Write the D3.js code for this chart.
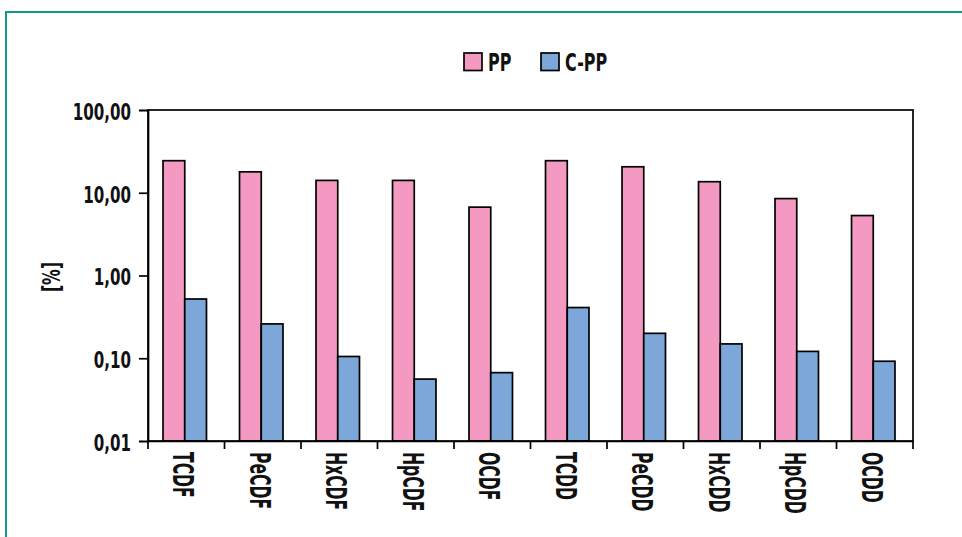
<!DOCTYPE html>
<html>
<head>
<meta charset="utf-8">
<script src="https://cdnjs.cloudflare.com/ajax/libs/d3/7.8.5/d3.min.js"></script>
<style>
body { margin: 0; background: #fff; }
svg text { font-family: "DejaVu Sans Condensed", "Liberation Sans Narrow", sans-serif; font-weight: bold; fill: #111; }
</style>
</head>
<body>
<div id="chart"></div>
<script>
var categories = ["TCDF", "PeCDF", "HxCDF", "HpCDF", "OCDF", "TCDD", "PeCDD", "HxCDD", "HpCDD", "OCDD"];
var seriesNames = ["PP", "C-PP"];
var ppValues = [24.4, 17.9, 14.1, 14.1, 6.7, 24.4, 20.6, 13.6, 8.5, 5.3];
var cppValues = [0.52, 0.26, 0.105, 0.056, 0.067, 0.41, 0.20, 0.149, 0.121, 0.092];
var yTicks = [0.01, 0.1, 1, 10, 100];
var colors = ["#f49ac2", "#7ca7d8"];

var width = 962,
	height = 537;

// narrow factor to imitate a condensed bold face
var squeeze = 0.73;

var svg = d3.select("#chart").append("svg")
	.attr("width", width)
	.attr("height", height);

//Outer teal frame (runs off the right and bottom edges)
svg.append("rect")
	.attr("x", 6)
	.attr("y", 12)
	.attr("width", 1000)
	.attr("height", 600)
	.attr("fill", "none")
	.attr("stroke", "#16998d")
	.attr("stroke-width", 2);

var plot = { left: 148, top: 110, right: 913, bottom: 441 };

var xScale = d3.scaleBand()
	.domain(categories)
	.range([plot.left, plot.right])
	.padding(0);

var xInner = d3.scaleBand()
	.domain(seriesNames)
	.range([0, xScale.bandwidth()])
	.paddingInner(0)
	.paddingOuter(0.76);

var yScale = d3.scaleLog()
	.domain([0.01, 100])
	.range([plot.bottom, plot.top]);

var locale = d3.formatLocale({ decimal: ",", thousands: ".", grouping: [3], currency: ["", ""] });
var fmt = locale.format(".2f");

var data = categories.map(function(c, i) {
	return { cat: c, values: [ppValues[i], cppValues[i]] };
});

//Bars
var groups = svg.selectAll(".grp")
	.data(data)
	.enter().append("g")
	.attr("class", "grp")
	.attr("transform", function(d) { return "translate(" + (xScale(d.cat) - 1.5) + ",0)"; });

groups.selectAll("rect")
	.data(function(d) { return d.values.map(function(v, j) { return { name: seriesNames[j], value: v, j: j }; }); })
	.enter().append("rect")
	.attr("x", function(d) { return xInner(d.name); })
	.attr("width", xInner.bandwidth())
	.attr("y", function(d) { return yScale(d.value); })
	.attr("height", function(d) { return plot.bottom - yScale(d.value); })
	.attr("fill", function(d) { return colors[d.j]; })
	.attr("stroke", "#000")
	.attr("stroke-width", 1.7);

//Plot frame
svg.append("rect")
	.attr("x", plot.left)
	.attr("y", plot.top)
	.attr("width", plot.right - plot.left)
	.attr("height", plot.bottom - plot.top)
	.attr("fill", "none")
	.attr("stroke", "#000")
	.attr("stroke-width", 1.7);

//Y axis
var yAxis = d3.axisLeft(yScale)
	.tickValues(yTicks)
	.tickFormat(fmt)
	.tickSize(9);

var gy = svg.append("g")
	.attr("transform", "translate(" + plot.left + ",0)")
	.call(yAxis)
	.attr("font-family", null)
	.attr("font-size", null);
gy.select(".domain").attr("stroke-width", 1.7);
gy.selectAll(".tick line").attr("stroke-width", 1.7);
gy.selectAll(".tick text")
	.attr("x", 0)
	.attr("dy", "0.36em")
	.attr("font-size", 23)
	.attr("transform", "translate(-17,1) scale(" + squeeze + ",1)");

//X axis: ticks on category boundaries
var xAxis = d3.axisBottom(xScale)
	.tickSize(0)
	.tickFormat("");

var gx = svg.append("g")
	.attr("transform", "translate(0," + plot.bottom + ")")
	.call(xAxis)
	.attr("font-family", null)
	.attr("font-size", null);
gx.select(".domain").attr("stroke-width", 1.7);

gx.selectAll(".edge")
	.data(categories.concat(["end"]))
	.enter().append("line")
	.attr("class", "edge")
	.attr("x1", function(d, i) { return i < categories.length ? xScale(d) : plot.right; })
	.attr("x2", function(d, i) { return i < categories.length ? xScale(d) : plot.right; })
	.attr("y1", 0)
	.attr("y2", 8)
	.attr("stroke", "#000")
	.attr("stroke-width", 1.7);

gx.selectAll(".cat")
	.data(categories)
	.enter().append("text")
	.attr("class", "cat")
	.attr("transform", function(d) { return "translate(" + (xScale(d) + xScale.bandwidth() / 2 - 3) + ",11) rotate(90) scale(0.62,1)"; })
	.attr("dy", "0.36em")
	.attr("text-anchor", "start")
	.attr("font-size", 28)
	.text(function(d) { return d; });

//Y label
svg.append("text")
	.attr("transform", "translate(51,277) rotate(-90) scale(" + squeeze + ",1)")
	.attr("dy", "0.36em")
	.attr("text-anchor", "middle")
	.attr("font-size", 24)
	.text("[%]");

//Legend
var legend = svg.append("g")
	.attr("transform", "translate(464,53)");

var items = legend.selectAll(".item")
	.data(seriesNames)
	.enter().append("g")
	.attr("class", "item")
	.attr("transform", function(d, i) { return "translate(" + (i * 77) + ",0)"; });

items.append("rect")
	.attr("width", 18)
	.attr("height", 17.5)
	.attr("fill", function(d, i) { return colors[i]; })
	.attr("stroke", "#000")
	.attr("stroke-width", 1.7);

items.append("text")
	.attr("transform", "translate(24,17.7) scale(0.74,1)")
	.attr("font-size", 24)
	.text(function(d) { return d; });
</script>
</body>
</html>
